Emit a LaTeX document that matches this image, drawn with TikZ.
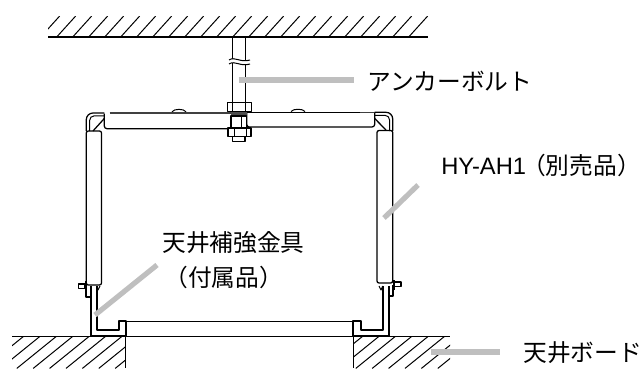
\documentclass[tikz,border=0pt]{standalone}
\usepackage{fontspec}
\setmainfont{Liberation Sans}
\newfontfamily\cjk{Noto Sans CJK JP}
\tikzset{
  px/.style={x=0.75pt,y=-0.75pt},
  thin line/.style={line width=0.75pt,black},
  mid line/.style={line width=0.95pt,black},
  thick line/.style={line width=1.5pt,black},
  hatch/.style={line width=0.75pt,black},
  leader/.style={line width=3.9pt,draw=black!25},
  lab/.style={inner sep=0pt,anchor=west,font=\fontsize{17.8pt}{20pt}\selectfont},
}
\begin{document}
\begin{tikzpicture}[px,line join=round]
\useasboundingbox (0,0) rectangle (641,368);
% ceiling hatching
\begin{scope}
\clip (48,16) rectangle (432,37);
\foreach \k in {0,...,23} \draw[hatch] ({40.7+16*\k},37) -- ({59.7+16*\k},16);
\end{scope}
\draw[mid line] (48,37) -- (428,37);
% floor hatching
\begin{scope}
\clip (12,336) rectangle (125.7,368);
\foreach \k in {-1,...,8} \draw[hatch] ({24+16.4*\k},336) -- ({24+16.4*\k-40},368.4);
\end{scope}
\begin{scope}
\clip (353.3,336) rectangle (450,368);
\foreach \k in {0,...,8} \draw[hatch] ({363+16.4*\k},336) -- ({363+16.4*\k-40},368.4);
\end{scope}
\draw[thin line] (12,336) -- (450,336);
\draw[thin line] (125.7,336) -- (125.7,368) (353.3,336) -- (353.3,368);
\draw[thin line] (125.7,321.3) -- (353.3,321.3);
% rod
\draw[mid line] (232.7,37) -- (232.7,103) (245.3,37) -- (245.3,103);
\fill[white] (229,60) .. controls (235,56) and (240,63) .. (250,60) -- (250,64) .. controls (240,67) and (235,60) .. (229,64) -- cycle;
\draw[thin line] (229,60) .. controls (235,56) and (240,63) .. (250,60);
\draw[thin line] (229,64) .. controls (235,60) and (240,67) .. (250,64);
% left plate and tube
\draw[line width=1.5pt,black!75] (109.5,113) -- (232,113);
\draw[mid line,rounded corners=2pt] (104.3,113.5) -- (104.3,128.7) -- (231,128.7);
\draw[thin line] (172,111.8) .. controls (174,108.5) and (184,108.5) .. (186,111.8);
% right tube
\draw[mid line] (246,112.3) -- (386,112.3);
\draw[line width=1.3pt,black!75] (360,112.6) -- (375,112.6);
\draw[mid line,rounded corners=2pt] (246.7,112.3) -- (246.7,127) -- (374.7,127) -- (374.7,113);
\draw[thin line] (291,111.5) .. controls (293,108.5) and (303,108.5) .. (305,111.5);
% nuts
\draw[mid line,fill=white] (227.3,102.3) rectangle (251.3,111.7);
\draw[thin line] (232.7,102.3) -- (232.7,111.7) (245.3,102.3) -- (245.3,111.7);
\fill[black!70] (231,111.7) rectangle (246.7,116);
\draw[mid line] (231,116) rectangle (246.7,128);
\draw[thin line] (241.7,116) -- (241.7,128);
\draw[mid line,fill=white] (228,128) rectangle (251,136.7);
\draw[thin line] (234.3,128) -- (234.3,136.7) (246.7,128) -- (246.7,136.7);
\draw[mid line,fill=white] (232.7,136.7) rectangle (245,141.7);
% left corner
\draw[mid line,rounded corners=5pt] (86.3,131) -- (86.3,113) -- (104.3,113);
\draw[thin line,rounded corners=3.5pt] (89.6,131) -- (89.6,115.8) -- (104.3,115.8);
\draw[mid line] (93,131) -- (104.3,118.5);
% right corner
\draw[mid line,rounded corners=5pt] (374.7,112.3) -- (392.7,112.3) -- (392.7,131);
\draw[thin line,rounded corners=3.5pt] (374.7,115.3) -- (389.6,115.3) -- (389.6,131);
\draw[mid line] (374.5,118.3) -- (386,130);
% vertical tubes
\draw[mid line,rounded corners=1.5pt] (86.3,131) rectangle (101.5,285);
\draw[mid line,rounded corners=1.5pt] (377,130.5) rectangle (392.7,283);
% left bracket
\draw[thick line] (96.7,286) -- (96.7,330) -- (119.3,330) -- (119.3,321.3) -- (125.7,321.3) -- (125.7,336) -- (90.7,336) -- (90.7,286);
\draw[mid line] (86,285) -- (86,297) -- (90.7,297);
\draw[thick line] (85.5,281) -- (85.5,291);
\draw[mid line,fill=white] (78.5,284) rectangle (85,288.5);
\draw[thin line] (96.7,286) -- (98,290) -- (100,286);
% right bracket
\draw[thick line] (382.7,286) -- (382.7,330) -- (360.7,330) -- (360.7,321.3) -- (353.3,321.3) -- (353.3,336) -- (388.7,336) -- (388.7,286);
\draw[mid line] (393,285) -- (393,296) -- (388.7,296);
\draw[thick line] (393.5,280) -- (393.5,290);
\draw[mid line,fill=white] (394,282) rectangle (401,286.5);
\draw[thin line] (382.7,286) -- (381,290) -- (379,286);
% labels
\node[lab] (anchor) at (367,81.5) {\cjk アンカーボルト};
\node[lab] (hy) at (441,165) {HY-AH1{\cjk\kern-3pt （別売品）\kern-9pt}};
\node[lab] (brk) at (162,243) {\cjk 天井補強金具};
\node[lab] (brk2) at (164,277) {\cjk （付属品）};
\node[lab] (board) at (523,352.5) {\cjk 天井ボード};
% leaders
\coordinate (a1) at (238.7,80);
\coordinate (a2) at (353.5,80);
\coordinate (h1) at (384,218);
\coordinate (h2) at (418,185);
\coordinate (b1) at (95,315);
\coordinate (b2) at (157,265);
\coordinate (c1) at (431,352);
\coordinate (c2) at (500,352);
\draw[leader] (a1) -- (a2);
\draw[leader] (h1) -- (h2);
\draw[leader] (b1) -- (b2);
\draw[leader] (c1) -- (c2);
\end{tikzpicture}
\end{document}
